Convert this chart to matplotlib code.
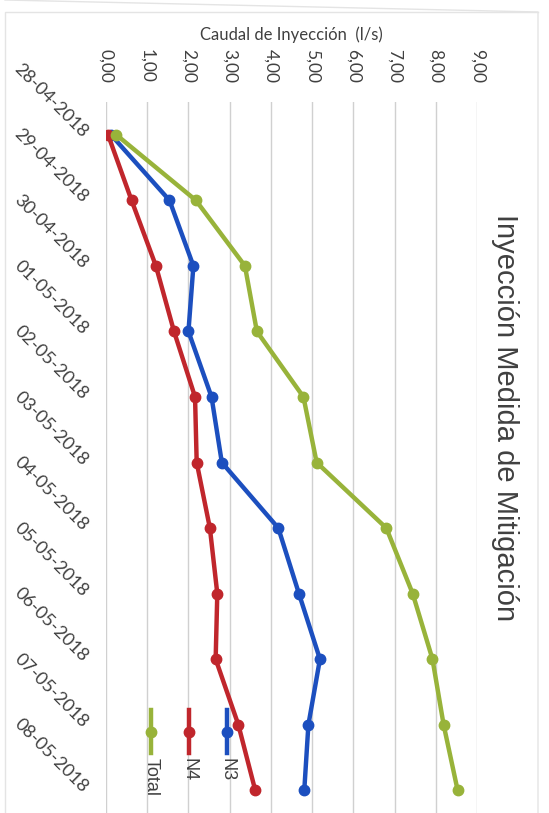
import matplotlib.pyplot as plt
from matplotlib.lines import Line2D

fechas = ['28-04-2018', '29-04-2018', '30-04-2018', '01-05-2018', '02-05-2018',
          '03-05-2018', '04-05-2018', '05-05-2018', '06-05-2018', '07-05-2018',
          '08-05-2018']
n3 = [0.12, 1.54, 2.12, 2.00, 2.56, 2.81, 4.18, 4.68, 5.19, 4.91, 4.81]
n4 = [0.05, 0.62, 1.21, 1.65, 2.16, 2.20, 2.52, 2.70, 2.66, 3.21, 3.62]
total = [0.25, 2.18, 3.37, 3.66, 4.79, 5.11, 6.80, 7.44, 7.92, 8.19, 8.53]
ticks_caudal = [0, 1, 2, 3, 4, 5, 6, 7, 8, 9]

series = [('N3', n3, '#1c4fbf'), ('N4', n4, '#c0262c'), ('Total', total, '#98b33a')]

W, H = 549, 813
fig = plt.figure(figsize=(W / 100, H / 100), dpi=100)
# chart is drawn rotated: values across, dates downwards
ax = fig.add_axes([106 / W, -10 / H, (477 - 106) / W, (823 - 102) / H])

pos = list(range(len(fechas)))
for name, vals, col in series:
    ax.plot(vals, pos, color=col, lw=3.2, marker='o', ms=7.5, zorder=3)

ax.set_xlim(0, 9)
ax.set_ylim(len(fechas) - 0.5, -0.5)
ax.set_xticks(ticks_caudal)
ax.set_xticklabels(['{:.2f}'.format(t).replace('.', ',') for t in ticks_caudal],
                   rotation=-90, fontsize=12.5, family='Lato', color='#404040')
ax.xaxis.tick_top()
ax.xaxis.set_label_position('top')
ax.tick_params(axis='x', length=0, pad=14)
ax.set_xlabel('Caudal de Inyección  (l/s)', fontsize=12, family='Lato',
              color='#404040', labelpad=6)

ax.set_yticks(pos)
ax.set_yticklabels(fechas, rotation=-45, rotation_mode='anchor', ha='right',
                   va='center', fontsize=13, family='Lato', color='#404040')
ax.tick_params(axis='y', length=0, pad=15)

ax.grid(axis='x', color='#d0d0d0', lw=1)
ax.set_axisbelow(True)
for s in ax.spines.values():
    s.set_visible(False)

fig.text(505 / W, 1 - 418 / H, 'Inyección Medida de Mitigación', rotation=-90,
         ha='center', va='center', fontsize=21, family='Liberation Sans',
         color='#404040')

# legend drawn sideways, entries across
leg_x = {'Total': 151, 'N4': 189, 'N3': 227}
for name, vals, col in series:
    x = leg_x[name] / W
    fig.add_artist(Line2D([x, x], [1 - 710 / H, 1 - 753 / H], color=col, lw=3.2,
                          transform=fig.transFigure))
    fig.add_artist(Line2D([x], [1 - 732 / H], color=col, marker='o', ms=7.5,
                          transform=fig.transFigure))
    fig.text(x, 1 - 758 / H, name, rotation=-90, ha='center', va='top',
             fontsize=13, family='Liberation Sans', color='#404040')

# faint chart border
fig.add_artist(Line2D([5 / W, 538 / W, 538 / W], [1, 1 - 12 / H, 0],
                      color='#e4e4e4', lw=1, transform=fig.transFigure))
fig.add_artist(Line2D([5 / W, 5 / W, 538 / W], [0, 1 - 12 / H, 1 - 12 / H],
                      color='#e4e4e4', lw=1, transform=fig.transFigure))

fig.savefig('out.png', dpi=100)
